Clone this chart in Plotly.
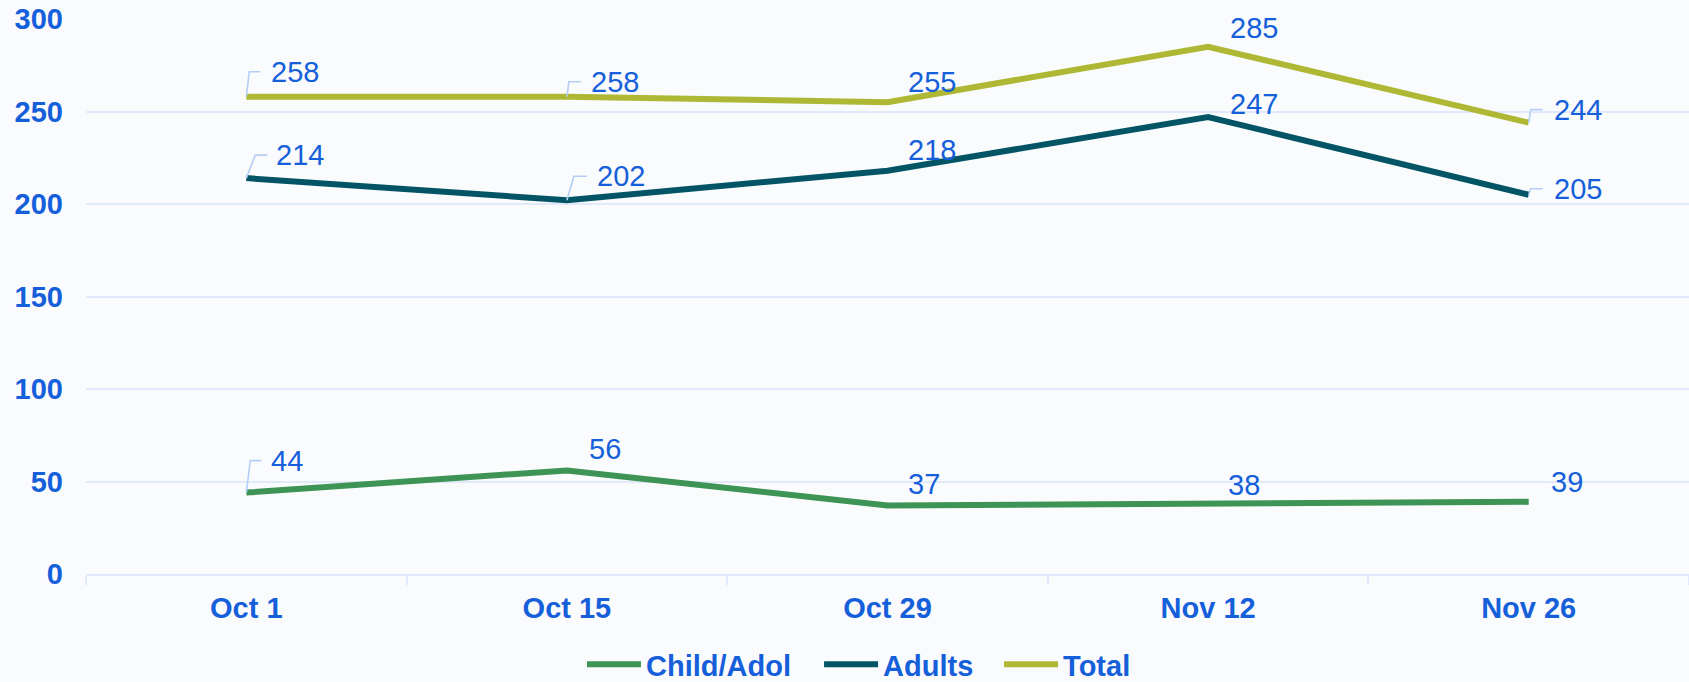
import plotly.graph_objects as go

categories = ["Oct 1", "Oct 15", "Oct 29", "Nov 12", "Nov 26"]
child_adol = [44, 56, 37, 38, 39]
adults = [214, 202, 218, 247, 205]
total = [258, 258, 255, 285, 244]

series_names = ["Child/Adol", "Adults", "Total"]
series_values = [child_adol, adults, total]
series_colors = ["#3d9455", "#035566", "#afb834"]

y_ticks = [0, 50, 100, 150, 200, 250, 300]

BLUE = "#1560da"
GRID = "#e0eafa"
LEADER = "#b4cef5"
BG = "#fafbfc"
FONT = "Liberation Sans, Arial, sans-serif"

# label pixel offsets (dx to left edge of text, dy to text centre; dy negative = up)
label_offsets = {
    "Child/Adol": [(23, -32), (20, -21), (18, -22), (18, -19), (20, -20)],
    "Adults": [(28, -23), (28, -24), (18, -21), (20, -13), (23, -6)],
    "Total": [(23, -25), (22, -15), (18, -20), (20, -19), (23, -13)],
}
# leader lines: (knee dx, knee dy, end dx) relative to point, None = no leader
leaders = {
    "Child/Adol": [(4, -32, 15), None, None, None, None],
    "Adults": [(9, -23, 21), (7, -24, 20), None, None, (2, -6, 14)],
    "Total": [(3, -25, 14), (2, -15, 14), None, None, (2, -13, 14)],
}
# one legend box per series, left edges as paper fractions
legend_ids = ["legend", "legend2", "legend3"]
legend_x = [0.3094, 0.4573, 0.5696]

fig = go.Figure()
for name, vals, col, lid in zip(series_names, series_values, series_colors, legend_ids):
    fig.add_trace(go.Scatter(
        x=categories, y=vals, name=name, mode="lines",
        line=dict(color=col, width=6),
        hoverinfo="x+y+name", legend=lid,
    ))

annotations = []
shapes = []
for name, vals in zip(series_names, series_values):
    for i, (cat, v) in enumerate(zip(categories, vals)):
        dx, dy = label_offsets[name][i]
        annotations.append(dict(
            x=cat, y=v, xref="x", yref="y", text=str(v), showarrow=False,
            xanchor="left", yanchor="middle", xshift=dx, yshift=-dy,
            font=dict(family=FONT, size=29, color=BLUE),
        ))
        ld = leaders[name][i]
        if ld is not None:
            kx, ky, ex = ld
            shapes.append(dict(
                type="path", xref="x", yref="y",
                xsizemode="pixel", ysizemode="pixel",
                xanchor=cat, yanchor=v,
                path=f"M0,0 L{kx},{-ky} L{ex},{-ky}",
                line=dict(color=LEADER, width=1.6),
                layer="above",
            ))

legend_style = dict(
    orientation="h", xanchor="left", y=-0.163, yanchor="middle",
    font=dict(family=FONT, size=29, color=BLUE, weight="bold"),
    bgcolor="rgba(0,0,0,0)", itemwidth=54,
)
legends = {lid: dict(legend_style, x=lx) for lid, lx in zip(legend_ids, legend_x)}

fig.update_layout(
    width=1689, height=682,
    margin=dict(l=86, r=0, t=19, b=108, autoexpand=False),
    paper_bgcolor=BG, plot_bgcolor=BG,
    font=dict(family=FONT, size=29, color=BLUE),
    showlegend=True,
    annotations=annotations,
    shapes=shapes,
    xaxis=dict(
        type="category", categoryorder="array", categoryarray=categories,
        range=[-0.5, 4.5], showgrid=False, showline=True, linecolor=GRID,
        linewidth=2, ticks="outside", tickson="boundaries", ticklen=9,
        tickcolor=GRID, tickwidth=2, ticklabelstandoff=7,
        tickfont=dict(family=FONT, size=29, color=BLUE, weight="bold"),
        zeroline=False, automargin=False, fixedrange=True,
    ),
    yaxis=dict(
        range=[0, 300], tickvals=y_ticks, showgrid=True, gridcolor=GRID,
        gridwidth=1.5, zeroline=False, showline=False, ticks="",
        ticklabelstandoff=22,
        tickfont=dict(family=FONT, size=29, color=BLUE, weight="bold"),
        automargin=False, fixedrange=True,
    ),
    **legends,
)

fig.write_html(
    "out.html",
    config={"displayModeBar": False},
    post_script="document.body.style.margin='0';document.body.style.background='" + BG + "';",
)
